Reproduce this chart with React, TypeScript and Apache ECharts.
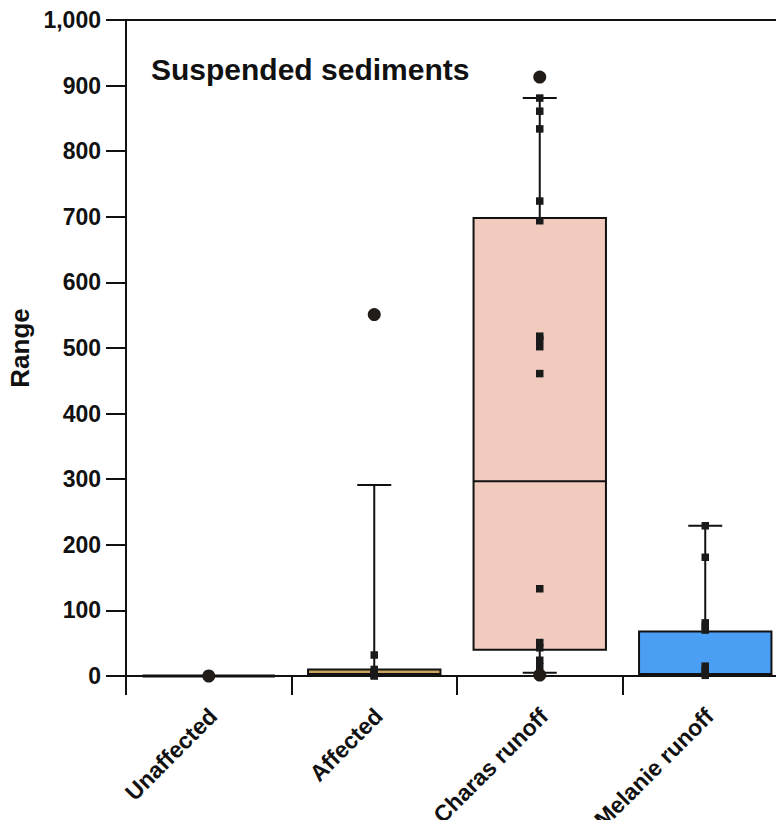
import React, { useEffect, useRef } from "react";
import * as echarts from "echarts";

// Groups along the x axis
const categories = ["Unaffected", "Affected", "Charas runoff", "Melanie runoff"];

// Box summaries per group: [min, Q1, median, Q3, max]
const boxUnaffected = [0, 0, 0, 0, 0];
const boxAffected = [0, 1, 3, 10, 291];
const boxCharas = [5, 40, 297, 698, 881];
const boxMelanie = [0, 1, 3, 68, 229];

// Box fill colours per group
const boxFills = ["#ffffff", "#c9a45c", "#f1cbbd", "#4a9ff5"];

// Individual measurements per group
const pointsAffected = [32, 10, 6, 3, 1, 0];
const pointsCharas = [881, 861, 834, 724, 694, 518, 513, 502, 461, 133, 51, 43, 24, 14];
const pointsMelanie = [229, 181, 81, 76, 70, 15, 10, 5, 1];

// Outlying values: [group, value]
const outliers: [string, number][] = [
  ["Unaffected", 0],
  ["Affected", 551],
  ["Charas runoff", 913],
  ["Charas runoff", 1.5],
];

// Value axis range
const yMin = 0;
const yMax = 1000;
const yStep = 100;

const FONT = "'Liberation Sans', Arial, Helvetica, sans-serif";
const INK = "#111111";

export default function App() {
  const ref = useRef<HTMLDivElement>(null);

  useEffect(() => {
    if (!ref.current) return;
    const chart = echarts.init(ref.current, undefined, { renderer: "svg" });

    const boxes = [boxUnaffected, boxAffected, boxCharas, boxMelanie];
    const boxData = boxes.map((b, i) => [i, ...b]);

    const squareData: [string, number][] = [
      ...pointsAffected.map((v) => [categories[1], v] as [string, number]),
      ...pointsCharas.map((v) => [categories[2], v] as [string, number]),
      ...pointsMelanie.map((v) => [categories[3], v] as [string, number]),
    ];

    const option: any = {
      animation: false,
      backgroundColor: "#ffffff",
      title: {
        text: "Suspended sediments",
        left: 146,
        top: 49,
        textStyle: { fontFamily: FONT, fontWeight: "bold", fontSize: 30, color: INK },
      },
      grid: {
        left: 126,
        top: 20,
        width: 662,
        height: 656,
        containLabel: false,
        outerBoundsMode: "none",
      },
      xAxis: [
        {
          type: "category",
          data: categories,
          boundaryGap: true,
          axisLine: { show: true, lineStyle: { color: INK, width: 2 } },
          axisTick: { show: true, length: 19, alignWithLabel: false, lineStyle: { color: INK, width: 2 } },
          axisLabel: {
            rotate: 45,
            margin: 32,
            verticalAlign: "top",
            lineHeight: 12,
            fontFamily: FONT,
            fontWeight: "bold",
            fontSize: 23,
            color: INK,
            interval: 0,
          },
          splitLine: { show: false },
        },
        {
          type: "category",
          data: categories,
          position: "top",
          axisLine: { show: true, lineStyle: { color: INK, width: 2 } },
          axisTick: { show: false },
          axisLabel: { show: false },
          splitLine: { show: false },
        },
      ],
      yAxis: {
        type: "value",
        min: yMin,
        max: yMax,
        interval: yStep,
        name: "Range",
        nameLocation: "middle",
        nameGap: 88,
        nameTextStyle: { fontFamily: FONT, fontWeight: "bold", fontSize: 26, color: INK },
        axisLine: { show: true, lineStyle: { color: INK, width: 2 } },
        axisTick: { show: true, inside: false, length: 20, lineStyle: { color: INK, width: 2 } },
        axisLabel: {
          margin: 25,
          fontFamily: FONT,
          fontWeight: "bold",
          fontSize: 23,
          color: INK,
          formatter: (v: number) => v.toLocaleString("en-US"),
        },
        splitLine: { show: false },
      },
      series: [
        {
          type: "custom",
          name: "boxes",
          xAxisIndex: 0,
          data: boxData,
          encode: { x: 0, y: [1, 2, 3, 4, 5] },
          z: 2,
          renderItem: (params: any, api: any) => {
            const idx = api.value(0) as number;
            const mn = api.value(1) as number;
            const q1 = api.value(2) as number;
            const med = api.value(3) as number;
            const q3 = api.value(4) as number;
            const mx = api.value(5) as number;
            const band = api.size([1, 0])[0] as number;
            const bw = band * 0.8;
            const capHalf = 17;
            const xc = api.coord([idx, 0])[0] as number;
            const y = (v: number) => api.coord([idx, v])[1] as number;
            const lineStyle = { stroke: INK, lineWidth: 2 };
            const children: any[] = [];
            if (mx > q3) {
              children.push({ type: "line", shape: { x1: xc, y1: y(q3), x2: xc, y2: y(mx) }, style: lineStyle });
              children.push({ type: "line", shape: { x1: xc - capHalf, y1: y(mx), x2: xc + capHalf, y2: y(mx) }, style: lineStyle });
            }
            if (q1 > mn) {
              children.push({ type: "line", shape: { x1: xc, y1: y(q1), x2: xc, y2: y(mn) }, style: lineStyle });
              children.push({ type: "line", shape: { x1: xc - capHalf, y1: y(mn), x2: xc + capHalf, y2: y(mn) }, style: lineStyle });
            }
            const top = y(q3);
            const bottom = y(q1);
            if (bottom - top < 0.5) {
              children.push({
                type: "line",
                shape: { x1: xc - bw / 2, y1: top, x2: xc + bw / 2, y2: top },
                style: { stroke: INK, lineWidth: 3 },
              });
            } else {
              children.push({
                type: "rect",
                shape: { x: xc - bw / 2, y: top, width: bw, height: bottom - top },
                style: { fill: boxFills[idx], stroke: INK, lineWidth: 2 },
              });
              children.push({
                type: "line",
                shape: { x1: xc - bw / 2, y1: y(med), x2: xc + bw / 2, y2: y(med) },
                style: lineStyle,
              });
            }
            return { type: "group", children };
          },
        },
        {
          type: "scatter",
          name: "measurements",
          xAxisIndex: 0,
          data: squareData,
          symbol: "rect",
          symbolSize: 7.5,
          itemStyle: { color: "#1a1a1a", opacity: 1 },
          z: 3,
        },
        {
          type: "scatter",
          name: "outliers",
          xAxisIndex: 0,
          data: outliers,
          symbol: "circle",
          symbolSize: 13,
          itemStyle: { color: "#221c18", opacity: 1 },
          z: 4,
        },
      ],
    };

    chart.setOption(option);
    return () => chart.dispose();
  }, []);

  return (
    <div
      ref={ref}
      style={{ position: "absolute", left: 0, top: 0, width: 776, height: 820, background: "#fff" }}
    />
  );
}
